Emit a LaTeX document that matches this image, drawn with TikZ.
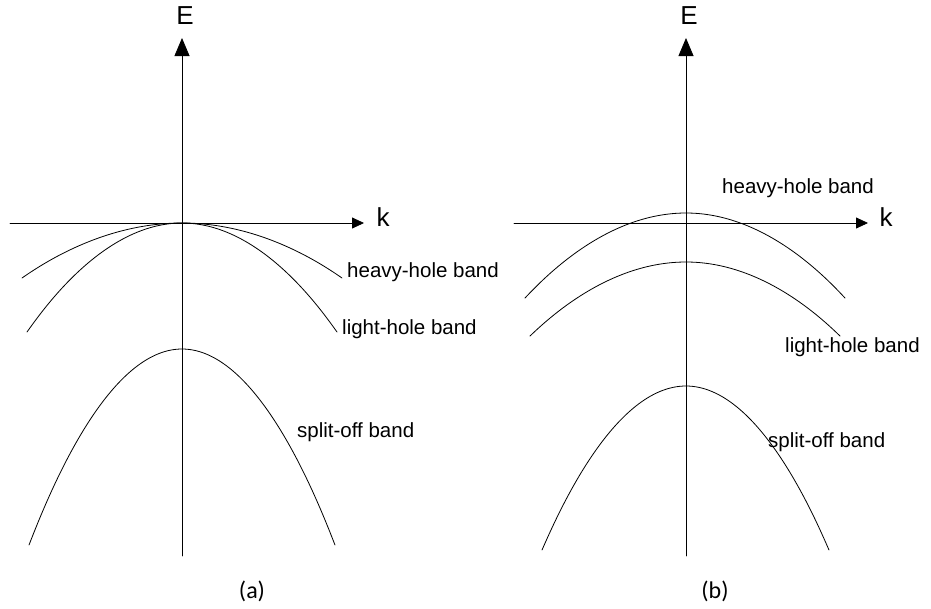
\documentclass[tikz,border=0pt]{standalone}
\usepackage{fontspec}
\setmainfont{Liberation Sans}
\newfontfamily\capfont{Carlito}
\usetikzlibrary{arrows.meta}

\begin{document}
\begin{tikzpicture}[
  x=1pt, y=-1pt,
  line cap=round,
  line join=round,
  band/.style={line width=0.8pt},
  axis/.style={line width=0.8pt},
  axlabel/.style={font=\fontsize{26}{28}\selectfont},
  bandlabel/.style={font=\fontsize{20.5}{23}\selectfont, inner sep=0pt},
  caption/.style={font=\capfont\fontsize{24}{27}\selectfont}
]
  \useasboundingbox (0,0) rectangle (931,608);

  % ---------- (a) ----------
  % Оси
  \coordinate (Ea0) at (182,556);
  \coordinate (Ea1) at (182,38);
  \coordinate (ka0) at (10,223);
  \coordinate (ka1) at (364,223);
  \draw[axis, -{Triangle[length=18pt,width=15pt]}] (Ea0) -- (Ea1);
  \draw[axis, -{Triangle[length=12pt,width=11pt]}] (ka0) -- (ka1);
  \node[axlabel] (Ea) at (185,16) {E};
  \node[axlabel] (ka) at (383,217) {k};

  % Зоны
  \coordinate (hhaL) at (22,278);
  \coordinate (hhaT) at (182,223);
  \coordinate (hhaR) at (342,278);
  \draw[band] (hhaL) parabola bend (hhaT) (hhaR);

  \coordinate (lhaL) at (27,332);
  \coordinate (lhaT) at (182,223);
  \coordinate (lhaR) at (337,332);
  \draw[band] (lhaL) parabola bend (lhaT) (lhaR);

  \coordinate (soaL) at (29,545);
  \coordinate (soaT) at (182,349);
  \coordinate (soaR) at (335,545);
  \draw[band] (soaL) parabola bend (soaT) (soaR);

  % Подписи
  \node[bandlabel, anchor=west] (hha) at (347,272) {heavy-hole band};
  \node[bandlabel, anchor=west] (lha) at (342,329) {light-hole band};
  \node[bandlabel, anchor=west] (soa) at (297,432) {split-off band};
  \node[caption] (capa) at (252,591) {(a)};

  % ---------- (b) ----------
  % Оси
  \coordinate (Eb0) at (686,556);
  \coordinate (Eb1) at (686,38);
  \coordinate (kb0) at (514,223);
  \coordinate (kb1) at (868,223);
  \draw[axis, -{Triangle[length=18pt,width=15pt]}] (Eb0) -- (Eb1);
  \draw[axis, -{Triangle[length=12pt,width=11pt]}] (kb0) -- (kb1);
  \node[axlabel] (Eb) at (689,16) {E};
  \node[axlabel] (kb) at (886,217) {k};

  % Зоны
  \coordinate (hhbL) at (525,298);
  \coordinate (hhbT) at (686,213);
  \coordinate (hhbR) at (845,298);
  \draw[band] (hhbL) parabola bend (hhbT) (hhbR);

  \coordinate (lhbL) at (530,336);
  \coordinate (lhbT) at (686,262);
  \coordinate (lhbR) at (840,336);
  \draw[band] (lhbL) parabola bend (lhbT) (lhbR);

  \coordinate (sobL) at (542,550);
  \coordinate (sobT) at (686,386);
  \coordinate (sobR) at (829,550);
  \draw[band] (sobL) parabola bend (sobT) (sobR);

  % Подписи
  \node[bandlabel] (hhb) at (798,188) {heavy-hole band};
  \node[bandlabel, anchor=west] (lhb) at (785,347) {light-hole band};
  \node[bandlabel, anchor=west] (sob) at (768,442) {split-off band};
  \node[caption] (capb) at (715,591) {(b)};
\end{tikzpicture}
\end{document}
